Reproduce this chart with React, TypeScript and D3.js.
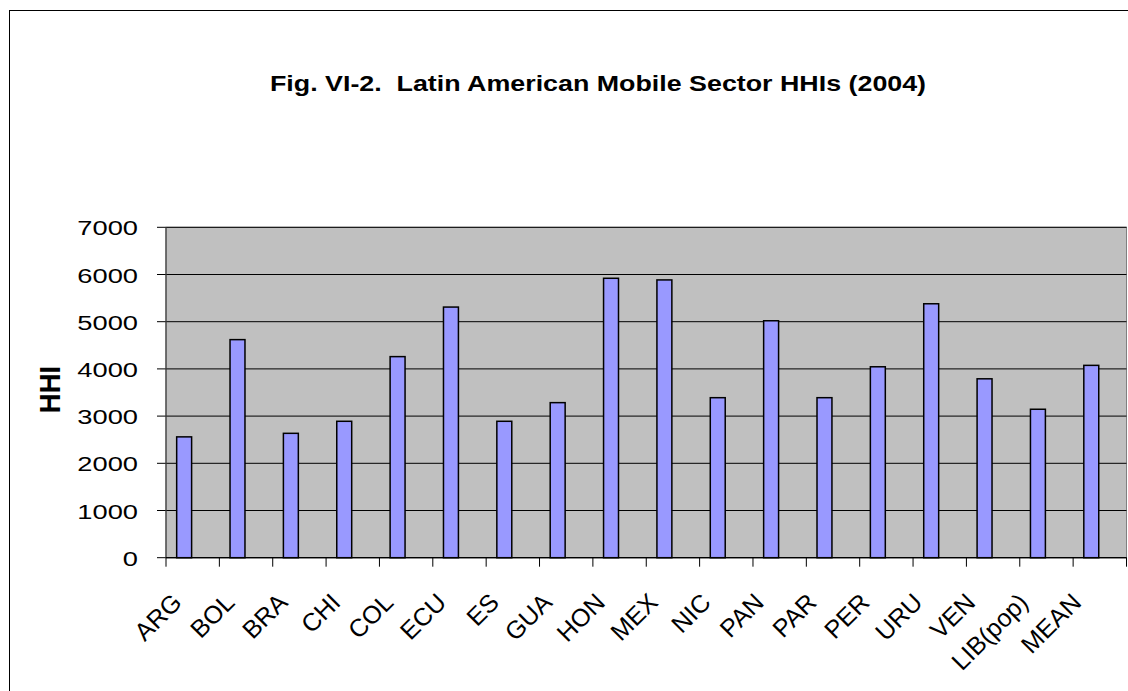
import React from 'react'
import * as d3 from 'd3'

const categories = ['ARG', 'BOL', 'BRA', 'CHI', 'COL', 'ECU', 'ES', 'GUA', 'HON', 'MEX', 'NIC', 'PAN', 'PAR', 'PER', 'URU', 'VEN', 'LIB(pop)', 'MEAN']
const hhi = [2560, 4620, 2635, 2890, 4260, 5310, 2890, 3285, 5920, 5885, 3390, 5020, 3390, 4045, 5380, 3790, 3145, 4075]
const yTicks = [0, 1000, 2000, 3000, 4000, 5000, 6000, 7000]

const title = 'Fig. VI-2.  Latin American Mobile Sector HHIs (2004)'
const yLabel = 'HHI'

export default function App() {
  const width = 1128
  const height = 691
  const left = 166, right = 1126.5, top = 227.3, bottom = 557.7
  const font = 'Arial, "Liberation Sans", sans-serif'

  const x = d3.scaleBand().domain(categories).range([left, right]).padding(0)
  const y = d3.scaleLinear().domain([0, 7000]).range([bottom, top])
  const bw = x.bandwidth()

  return (
    <svg width={width} height={height} style={{ position: 'absolute', left: 0, top: 0, background: '#fff' }}>
      <rect x={9.5} y={10.5} width={1140} height={700} fill="#fff" stroke="#000" strokeWidth={1} />

      <text
        transform={`translate(598,91) scale(1.22,1)`}
        textAnchor="middle"
        fontFamily={font}
        fontWeight="bold"
        fontSize={22}
        style={{ whiteSpace: 'pre' }}
      >{title}</text>

      {/* plot area */}
      <rect x={left} y={top} width={right - left} height={bottom - top} fill="#C0C0C0" stroke="#808080" strokeWidth={1} />
      {yTicks.map(t => (
        <line key={t} x1={left - 9} x2={right} y1={y(t)} y2={y(t)} stroke="#000" strokeWidth={1} />
      ))}

      {categories.map((c, i) => (
        <rect
          key={c}
          x={x(c)! + bw * 0.2}
          y={y(hhi[i])}
          width={bw * 0.28}
          height={bottom - y(hhi[i])}
          fill="#9999FF"
          stroke="#000"
          strokeWidth={1.5}
        />
      ))}

      {/* axes */}
      <line x1={left} x2={left} y1={top} y2={bottom} stroke="#404040" strokeWidth={1.2} />
      <line x1={left} x2={right} y1={bottom} y2={bottom} stroke="#000" strokeWidth={1.2} />
      {categories.concat(['']).map((c, i) => {
        const xx = left + bw * i
        return <line key={i} x1={xx} x2={xx} y1={bottom} y2={bottom + 9} stroke="#000" strokeWidth={1} />
      })}

      {yTicks.map(t => (
        <text
          key={t}
          transform={`translate(138,${y(t) + 8}) scale(1.3,1)`}
          textAnchor="end"
          fontFamily={font}
          fontSize={21}
        >{t}</text>
      ))}

      <text
        transform={`translate(60,389.5) rotate(-90) scale(1.256,1.3)`}
        textAnchor="middle"
        fontFamily={font}
        fontWeight="bold"
        fontSize={22}
      >{yLabel}</text>

      {categories.map((c, i) => (
        <text
          key={c}
          transform={`translate(${x(c)! + bw / 2 - 9.5 - i * 0.45},604) rotate(-45)`}
          textAnchor="end"
          fontFamily={font}
          fontSize={25}
        >{c}</text>
      ))}
    </svg>
  )
}
